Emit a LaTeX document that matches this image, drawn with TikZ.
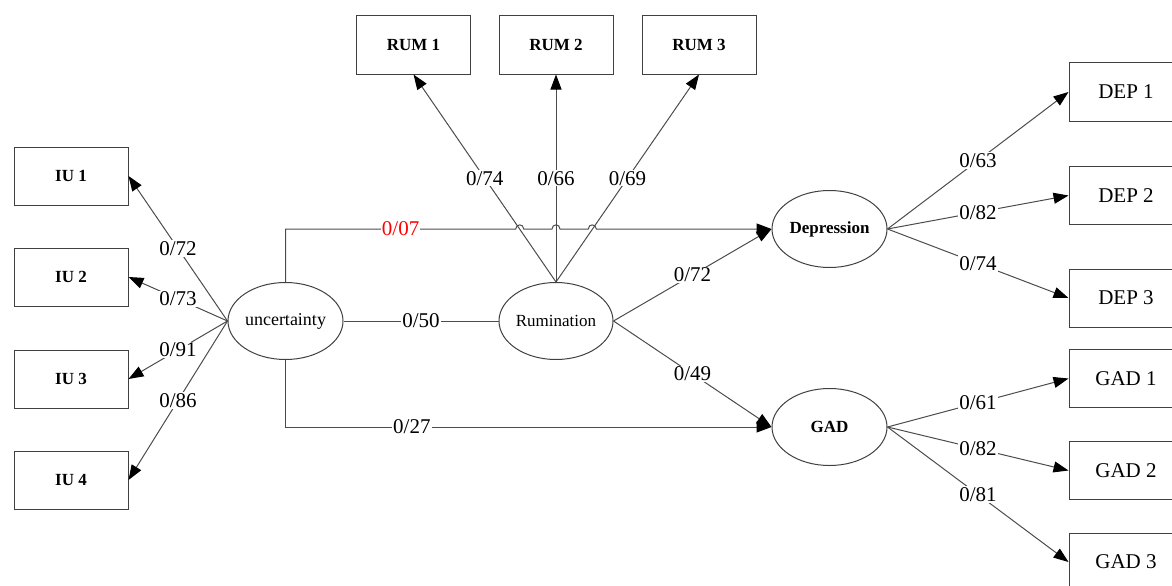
\documentclass[tikz,border=0pt]{standalone}
\usepackage{fontspec}
\setmainfont{Liberation Serif}
\usetikzlibrary{shapes.geometric,arrows.meta}
\begin{document}
\begin{tikzpicture}[x=1pt,y=-1pt,
  box/.style={draw=black!75, line width=1pt, minimum width=114pt, minimum height=58pt, inner sep=0pt, font=\fontsize{17}{20}\selectfont\bfseries},
  rbox/.style={box, font=\fontsize{21}{24}\selectfont},
  lat/.style={draw=black!75, line width=1pt, ellipse, minimum width=115pt, minimum height=77pt, inner sep=0pt},
  con/.style={draw=black!70, line width=1pt},
  arr/.style={con, -{Triangle[length=15pt,width=11pt,color=black]}},
  lab/.style={fill=white, inner sep=1pt, font=\fontsize{21}{24}\selectfont, text=black},
]
\useasboundingbox (0,0) rectangle (1172,586);
\clip (0,0) rectangle (1172,586);

% indicator boxes
\node[box] (iu1) at (71,176) {IU 1};
\node[box] (iu2) at (71,277) {IU 2};
\node[box] (iu3) at (71,379) {IU 3};
\node[box] (iu4) at (71,480) {IU 4};
\node[box] (rum1) at (413.5,45) {RUM 1};
\node[box] (rum2) at (556,45) {RUM 2};
\node[box] (rum3) at (699,45) {RUM 3};
\node[rbox] (dep1) at (1126,92) {DEP 1};
\node[rbox] (dep2) at (1126,195.5) {DEP 2};
\node[rbox] (dep3) at (1126,298) {DEP 3};
\node[rbox] (gad1) at (1126,378.5) {GAD 1};
\node[rbox] (gad2) at (1126,470.5) {GAD 2};
\node[rbox] (gad3) at (1126,562) {GAD 3};

% latent variables
\node[lat, font=\fontsize{18}{20}\selectfont] (unc) at (285.5,321) {uncertainty};
\node[lat, minimum width=114pt, minimum height=77pt, font=\fontsize{17}{20}\selectfont] (rum) at (556,321) {Rumination};
\node[lat, font=\fontsize{17}{20}\selectfont\bfseries] (dep) at (829.5,229) {Depression};
\node[lat, font=\fontsize{17}{20}\selectfont\bfseries] (gad) at (829.5,427) {GAD};

% uncertainty loadings
\draw[arr] (unc.west) -- node[lab] (l1) {0/72} (iu1.east);
\draw[arr] (unc.west) -- node[lab] (l2) {0/73} (iu2.east);
\draw[arr] (unc.west) -- node[lab] (l3) {0/91} (iu3.east);
\draw[arr] (unc.west) -- node[lab] (l4) {0/86} (iu4.east);

% rumination loadings
\draw[arr] (rum.north) -- node[lab] (l5) {0/74} (rum1.south);
\draw[arr] (rum.north) -- node[lab] (l6) {0/66} (rum2.south);
\draw[arr] (rum.north) -- node[lab] (l7) {0/69} (rum3.south);

% structural paths
\draw[con] (unc.east) -- node[lab] (l8) {0/50} (rum.west);
\coordinate (tl) at (285.5,229);
\coordinate (bl) at (285.5,427);
\draw[arr] (unc.north) -- (tl) -- node[lab, text=red] (l9) {0/07} (515.7,229)
  .. controls (515.7,223.5) and (523.7,223.5) .. (523.7,229) -- (552,229)
  .. controls (552,223.5) and (560,223.5) .. (560,229) -- (588.3,229)
  .. controls (588.3,223.5) and (596.3,223.5) .. (596.3,229) -- (dep.west);
\draw[arr] (unc.south) -- (bl) -- node[lab, pos=0.26] (l10) {0/27} (gad.west);
\draw[arr] (rum.east) -- node[lab] (l11) {0/72} (dep.west);
\draw[arr] (rum.east) -- node[lab] (l12) {0/49} (gad.west);

% depression loadings
\draw[arr] (dep.east) -- node[lab] (l13) {0/63} (dep1.west);
\draw[arr] (dep.east) -- node[lab] (l14) {0/82} (dep2.west);
\draw[arr] (dep.east) -- node[lab] (l15) {0/74} (dep3.west);

% GAD loadings
\draw[arr] (gad.east) -- node[lab] (l16) {0/61} (gad1.west);
\draw[arr] (gad.east) -- node[lab] (l17) {0/82} (gad2.west);
\draw[arr] (gad.east) -- node[lab] (l18) {0/81} (gad3.west);
\end{tikzpicture}
\end{document}
